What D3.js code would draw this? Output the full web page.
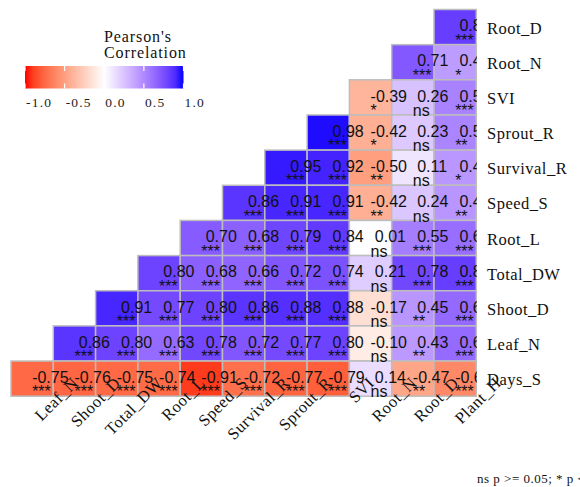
<!DOCTYPE html>
<html>
<head>
<meta charset="utf-8">
<script src="https://cdn.jsdelivr.net/npm/d3@7"></script>
<style>
html,body{margin:0;padding:0;background:#fff;}
svg{display:block;}
</style>
</head>
<body>
<svg id="chart" width="580" height="487"></svg>
<script>
// Rows top -> bottom, columns left -> right
const rowVars = ["Root_D","Root_N","SVI","Sprout_R","Survival_R","Speed_S","Root_L","Total_DW","Shoot_D","Leaf_N","Days_S"];
const colVars = ["Leaf_N","Shoot_D","Total_DW","Root_L","Speed_S","Survival_R","Sprout_R","SVI","Root_N","Root_D","Plant_H"];

// correlation values per row (cells start at the diagonal column, end at Plant_H)
const r_Root_D     = [0.82];
const r_Root_N     = [0.71, 0.42];
const r_SVI        = [-0.39, 0.26, 0.53];
const r_Sprout_R   = [0.98, -0.42, 0.23, 0.52];
const r_Survival_R = [0.95, 0.92, -0.50, 0.11, 0.44];
const r_Speed_S    = [0.86, 0.91, 0.91, -0.42, 0.24, 0.45];
const r_Root_L     = [0.70, 0.68, 0.79, 0.84, 0.01, 0.55, 0.62];
const r_Total_DW   = [0.80, 0.68, 0.66, 0.72, 0.74, 0.21, 0.78, 0.82];
const r_Shoot_D    = [0.91, 0.77, 0.80, 0.86, 0.88, 0.88, -0.17, 0.45, 0.64];
const r_Leaf_N     = [0.86, 0.80, 0.63, 0.78, 0.72, 0.77, 0.80, -0.10, 0.43, 0.63];
const r_Days_S     = [-0.75, -0.76, -0.75, -0.74, -0.91, -0.72, -0.77, -0.79, 0.14, -0.47, -0.61];

// significance labels per row
const p_Root_D     = ["***"];
const p_Root_N     = ["***","*"];
const p_SVI        = ["*","ns","***"];
const p_Sprout_R   = ["***","*","ns","**"];
const p_Survival_R = ["***","***","**","ns","*"];
const p_Speed_S    = ["***","***","***","**","ns","**"];
const p_Root_L     = ["***","***","***","***","ns","***","***"];
const p_Total_DW   = ["***","***","***","***","***","ns","***","***"];
const p_Shoot_D    = ["***","***","***","***","***","***","ns","**","***"];
const p_Leaf_N     = ["***","***","***","***","***","***","***","ns","**","***"];
const p_Days_S     = ["***","***","***","***","***","***","***","***","ns","**","***"];

const legendTicks = [-1.0, -0.5, 0.0, 0.5, 1.0];
const legendTitle = ["Pearson's", "Correlation"];
const caption = "ns p >= 0.05; * p < 0.05; ** p < 0.01; and *** p < 0.001";

const rowVals = [r_Root_D, r_Root_N, r_SVI, r_Sprout_R, r_Survival_R, r_Speed_S, r_Root_L, r_Total_DW, r_Shoot_D, r_Leaf_N, r_Days_S];
const rowSig  = [p_Root_D, p_Root_N, p_SVI, p_Sprout_R, p_Survival_R, p_Speed_S, p_Root_L, p_Total_DW, p_Shoot_D, p_Leaf_N, p_Days_S];

const cells = [];
rowVars.forEach((rv, i) => {
  const vals = rowVals[i];
  const start = colVars.length - vals.length;
  vals.forEach((v, k) => {
    cells.push({row: rv, col: colVars[start + k], value: v, sig: rowSig[i][k]});
  });
});

const svg = d3.select("#chart");
const x = d3.scaleBand().domain(colVars).range([11, 476.3]).padding(0);
const y = d3.scaleBand().domain(rowVars).range([9.5, 396.2]).padding(0);
const color = d3.scaleLinear().domain([-1, 0, 1]).range(["red", "white", "blue"]).interpolate(d3.interpolateLab);

svg.append("defs").append("clipPath").attr("id", "panel")
  .append("rect").attr("x", 10).attr("y", 0).attr("width", 466.8).attr("height", 400);

svg.append("g").selectAll("rect").data(cells).join("rect")
  .attr("x", d => x(d.col)).attr("y", d => y(d.row))
  .attr("width", x.bandwidth()).attr("height", y.bandwidth())
  .attr("fill", d => color(d.value))
  .attr("stroke", "#bdbdbd").attr("stroke-width", 1.5);

const tg = svg.append("g").attr("clip-path", "url(#panel)")
  .attr("font-family", "'Liberation Sans', Arial, sans-serif").attr("font-size", 16).attr("fill", "#111");
const lab = tg.selectAll("g").data(cells).join("g");
lab.append("text")
  .attr("x", d => x(d.col) + x.bandwidth() / 2 + (d.value >= 0 ? 4.3 : 0))
  .attr("y", d => y(d.row) + 21.8)
  .text(d => d3.format(".2f")(d.value).replace("−", "-"));
lab.append("text")
  .attr("x", d => x(d.col) + x.bandwidth() / 2)
  .attr("y", d => y(d.row) + 36.3)
  .text(d => d.sig);

// Right axis labels
svg.append("g").attr("font-family", "'Liberation Serif', 'Times New Roman', serif")
  .attr("font-size", 16.5).attr("letter-spacing", 0.5).attr("fill", "#111")
  .selectAll("text").data(rowVars).join("text")
  .attr("x", 487).attr("y", d => y(d) + y.bandwidth() / 2 + 6.5)
  .text(d => d);

// Bottom axis labels (rotated)
svg.append("g").attr("font-family", "'Liberation Serif', 'Times New Roman', serif")
  .attr("font-size", 16.5).attr("letter-spacing", 0.5).attr("fill", "#111")
  .selectAll("text").data(colVars).join("text")
  .attr("text-anchor", "end")
  .attr("transform", d => `translate(${x(d) + x.bandwidth() / 2 + 47},384) rotate(-45)`)
  .text(d => d);

// Legend
const lx = d3.scaleLinear().domain([-1, 1]).range([25, 183.5]);
const grad = svg.select("defs").append("linearGradient").attr("id", "lg")
  .attr("x1", "0%").attr("x2", "100%").attr("y1", "0%").attr("y2", "0%");
d3.range(0, 1.0001, 0.05).forEach(t => {
  grad.append("stop").attr("offset", (t * 100) + "%").attr("stop-color", color(-1 + 2 * t));
});
svg.append("rect").attr("x", lx(-1)).attr("y", 66).attr("width", lx(1) - lx(-1)).attr("height", 22.5)
  .attr("fill", "url(#lg)");
const lt = svg.append("g");
legendTicks.forEach(t => {
  lt.append("line").attr("x1", lx(t)).attr("x2", lx(t)).attr("y1", 66).attr("y2", 71)
    .attr("stroke", "#fff").attr("stroke-width", 1.2);
  lt.append("line").attr("x1", lx(t)).attr("x2", lx(t)).attr("y1", 83.5).attr("y2", 88.5)
    .attr("stroke", "#fff").attr("stroke-width", 1.2);
});
svg.append("g").attr("font-family", "'Liberation Serif', 'Times New Roman', serif")
  .attr("font-size", 13.5).attr("letter-spacing", 1.2).attr("fill", "#222")
  .selectAll("text").data(legendTicks).join("text")
  .attr("x", d => lx(d) + 1).attr("y", 107)
  .text(d => d3.format(".1f")(d).replace("−", "-"));
svg.append("g").attr("font-family", "'Liberation Serif', 'Times New Roman', serif")
  .attr("font-size", 16).attr("letter-spacing", 0.9).attr("fill", "#111")
  .selectAll("text").data(legendTitle).join("text")
  .attr("x", 104).attr("y", (d, i) => 41.5 + i * 16)
  .text(d => d);

// Caption
svg.append("text").attr("x", 477).attr("y", 483)
  .attr("font-family", "'Liberation Serif', 'Times New Roman', serif")
  .attr("font-size", 13).attr("letter-spacing", 0.5).attr("fill", "#111")
  .text(caption);
</script>
</body>
</html>
